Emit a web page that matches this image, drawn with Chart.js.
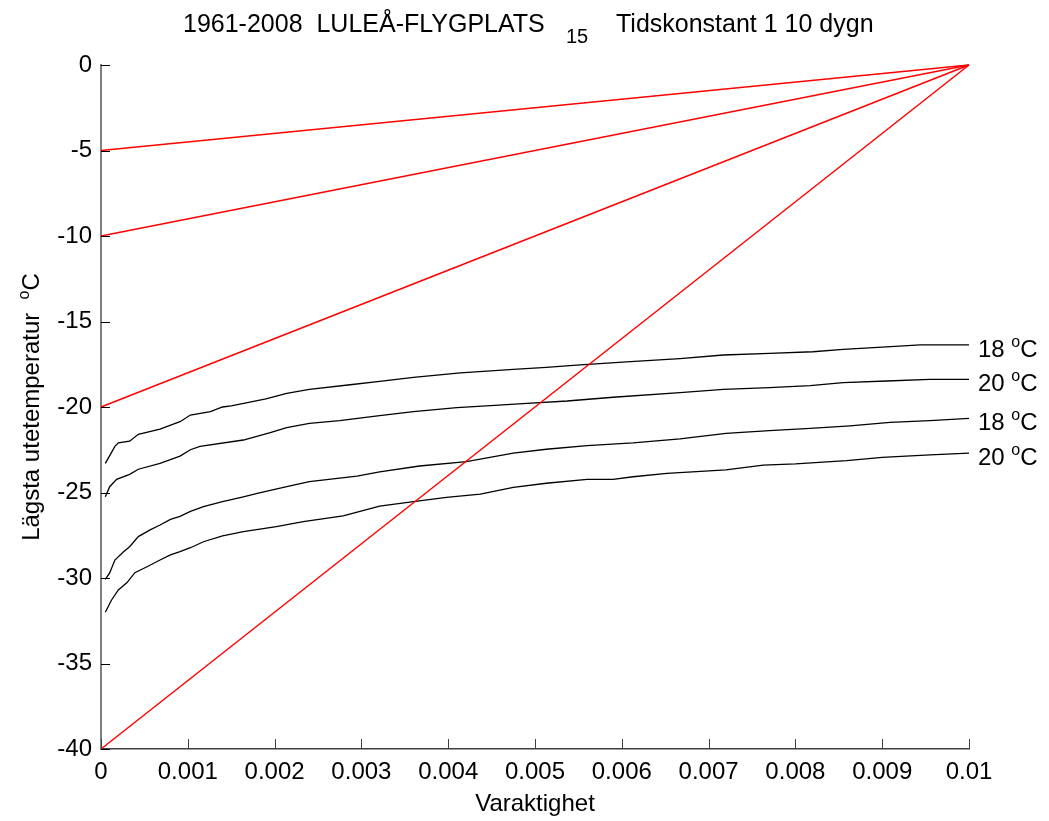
<!DOCTYPE html>
<html>
<head>
<meta charset="utf-8">
<script src="https://cdn.jsdelivr.net/npm/chart.js@4/dist/chart.umd.min.js"></script>
<style>
html,body{margin:0;padding:0;background:#fff;}
#wrap{width:1049px;height:821px;position:relative;}
</style>
</head>
<body>
<div id="wrap"><canvas id="c" width="1049" height="821"></canvas></div>
<script>
// ---- data ----
const xTickValues = [0,0.001,0.002,0.003,0.004,0.005,0.006,0.007,0.008,0.009,0.01];
const xTickLabels = ['0','0.001','0.002','0.003','0.004','0.005','0.006','0.007','0.008','0.009','0.01'];
const yTickValues = [0,-5,-10,-15,-20,-25,-30,-35,-40];
const yTickLabels = ['0','-5','-10','-15','-20','-25','-30','-35','-40'];

const redStartY = [-5,-10,-20,-40];
const redEnd = {x:0.01, y:0};

const curveLabels = ['18 ','20 ','18 ','20 '];

const c1x = [0.00005,0.00016,0.0002,0.00033,0.00043,0.00068,0.00091,0.00103,0.00126,0.0014,0.0015,0.0019,0.00214,0.0024,0.00287,0.00321,0.0036,0.00414,0.00475,0.00513,0.00552,0.0061,0.00667,0.00717,0.0077,0.0082,0.00855,0.009,0.00944,0.01];
const c1y = [-23.3,-22.3,-22.1,-22.0,-21.6,-21.3,-20.86,-20.47,-20.27,-20.0,-19.94,-19.53,-19.2,-18.97,-18.7,-18.5,-18.27,-18.0,-17.8,-17.68,-17.54,-17.35,-17.17,-16.96,-16.86,-16.77,-16.63,-16.5,-16.37,-16.37];

const c2x = [0.00005,0.0001,0.00018,0.00033,0.00043,0.00068,0.00091,0.00103,0.00114,0.00164,0.00195,0.00214,0.0024,0.00275,0.00321,0.0036,0.0041,0.00444,0.00486,0.00537,0.0059,0.00667,0.00717,0.0077,0.00817,0.00855,0.00905,0.00955,0.01];
const c2y = [-25.25,-24.66,-24.23,-23.94,-23.64,-23.3,-22.87,-22.5,-22.3,-21.93,-21.5,-21.2,-20.96,-20.8,-20.5,-20.27,-20.04,-19.94,-19.8,-19.65,-19.43,-19.16,-18.97,-18.87,-18.75,-18.58,-18.48,-18.38,-18.38];

const c3x = [0.00005,0.0001,0.00016,0.00026,0.00033,0.00043,0.00056,0.00068,0.0008,0.00091,0.00103,0.00118,0.0014,0.00164,0.0018,0.00214,0.0024,0.00295,0.00321,0.00367,0.00421,0.00475,0.00513,0.0056,0.00613,0.00667,0.0072,0.0077,0.00817,0.00863,0.00909,0.00955,0.01];
const c3y = [-30.08,-29.7,-28.95,-28.46,-28.17,-27.58,-27.2,-26.9,-26.57,-26.4,-26.1,-25.83,-25.53,-25.25,-25.05,-24.66,-24.37,-24.04,-23.8,-23.45,-23.2,-22.7,-22.47,-22.26,-22.1,-21.87,-21.54,-21.38,-21.25,-21.1,-20.9,-20.8,-20.66];

const c4x = [0.00005,0.00012,0.0002,0.0003,0.00039,0.00053,0.00068,0.0008,0.00091,0.00103,0.00118,0.0014,0.00164,0.00202,0.00233,0.00279,0.00321,0.0036,0.00398,0.00437,0.00475,0.00513,0.0056,0.0059,0.00613,0.00652,0.0072,0.00763,0.008,0.00859,0.009,0.00955,0.01];
const c4y = [-32.0,-31.3,-30.7,-30.27,-29.69,-29.34,-28.95,-28.65,-28.46,-28.23,-27.88,-27.54,-27.29,-27.0,-26.7,-26.37,-25.8,-25.53,-25.28,-25.09,-24.7,-24.46,-24.23,-24.23,-24.08,-23.88,-23.68,-23.4,-23.33,-23.14,-22.94,-22.8,-22.7];

const titleMain = '1961-2008  LULEÅ-FLYGPLATS';
const titleSub = '15';
const titleRest = 'Tidskonstant 1 10 dygn';
const xTitle = 'Varaktighet';
const yTitleParts = [{t:'Lägsta utetemperatur  ', k:'n'},{t:'o', k:'sup'},{t:'C', k:'n'}];

// ---- build ----
const FONT = '"Liberation Sans", Arial, Helvetica, sans-serif';
const zip = (xs, ys) => xs.map((x,i)=>({x:x, y:ys[i]}));

const datasets = [];
redStartY.forEach(y0 => {
  datasets.push({data:[{x:0,y:y0}, redEnd], borderColor:'#ff0000', borderWidth:1.5, pointRadius:0, tension:0, kind:'red'});
});
[[c1x,c1y],[c2x,c2y],[c3x,c3y],[c4x,c4y]].forEach((c,i) => {
  datasets.push({data:zip(c[0],c[1]), borderColor:'#000000', borderWidth:1.3, pointRadius:0, tension:0, kind:'curve', lbl:curveLabels[i]});
});

function drawParts(ctx, parts, x, y, size, align) {
  const big = size + 'px ' + FONT;
  const small = Math.round(size*0.68) + 'px ' + FONT;
  let total = 0;
  parts.forEach(p => { ctx.font = p.k==='n'?big:small; p.w = ctx.measureText(p.t).width; total += p.w; });
  let cx = align==='center' ? x - total/2 : x;
  parts.forEach(p => {
    ctx.font = p.k==='n'?big:small;
    let dy = 0;
    if (p.k==='sup') dy = -size*0.42;
    if (p.k==='sub') dy = size*0.38;
    ctx.fillText(p.t, cx, y+dy);
    cx += p.w;
  });
}

const textPlugin = {
  id:'textPlugin',
  afterDraw(chart) {
    const ctx = chart.ctx;
    const xs = chart.scales.x, ys = chart.scales.y;
    const a = chart.chartArea;
    ctx.save();
    // inward ticks
    ctx.lineWidth = 1;
    ctx.strokeStyle = '#000';
    yTickValues.forEach(v => {
      const py = Math.round(ys.getPixelForValue(v)) + 0.5;
      ctx.beginPath(); ctx.moveTo(a.left, py); ctx.lineTo(a.left+9, py); ctx.stroke();
    });
    ctx.strokeStyle = '#404040';
    xTickValues.forEach(v => {
      const px = Math.round(xs.getPixelForValue(v)) + 0.5;
      ctx.beginPath(); ctx.moveTo(px, a.bottom); ctx.lineTo(px, a.bottom-10); ctx.stroke();
    });
    ctx.fillStyle = '#000';
    ctx.textBaseline = 'alphabetic';
    ctx.textAlign = 'left';
    // title
    ctx.font = '25px ' + FONT;
    ctx.fillText(titleMain, 183, 32);
    ctx.font = '20px ' + FONT;
    ctx.fillText(titleSub, 566, 43);
    ctx.font = '25px ' + FONT;
    ctx.fillText(titleRest, 616, 32);
    // x title
    ctx.font = '24px ' + FONT;
    ctx.textAlign = 'center';
    ctx.fillText(xTitle, (a.left+a.right)/2, 811);
    ctx.textAlign = 'left';
    // y title
    ctx.save();
    ctx.translate(39, (a.top+a.bottom)/2);
    ctx.rotate(-Math.PI/2);
    drawParts(ctx, yTitleParts.map(p=>({...p})), 0, 0, 24, 'center');
    ctx.restore();
    // curve labels
    chart.data.datasets.forEach((ds, i) => {
      if (ds.kind !== 'curve') return;
      const last = ds.data[ds.data.length-1];
      const px = xs.getPixelForValue(last.x);
      const py = ys.getPixelForValue(last.y);
      drawParts(ctx, [{t:ds.lbl,k:'n'},{t:'o',k:'sup'},{t:'C',k:'n'}], px+9, py+12, 24, 'left');
    });
    ctx.restore();
  }
};

new Chart(document.getElementById('c'), {
  type:'line',
  data:{datasets:datasets},
  options:{
    responsive:false,
    animation:false,
    events:[],
    clip:false,
    layout:{padding:{left:0,right:80,top:65,bottom:0}},
    plugins:{legend:{display:false}, title:{display:false}, tooltip:{enabled:false}},
    scales:{
      x:{
        type:'linear', min:0, max:0.01,
        afterBuildTicks: s => { s.ticks = xTickValues.map(v=>({value:v})); },
        afterFit: s => { s.height = 72; },
        grid:{display:false, drawTicks:false},
        border:{display:true, color:'#404040', width:1.5},
        ticks:{
          autoSkip:false, maxRotation:0, padding:9, color:'#000',
          font:{family:FONT, size:24},
          callback:(v,i)=> xTickLabels[i]
        }
      },
      y:{
        type:'linear', min:-40, max:0,
        afterBuildTicks: s => { s.ticks = yTickValues.map(v=>({value:v})); },
        afterFit: s => { s.width = 101; },
        grid:{display:false, drawTicks:false},
        border:{display:true, color:'#808080', width:2},
        ticks:{
          autoSkip:false, padding:9, color:'#000',
          font:{family:FONT, size:24},
          callback:(v,i)=> yTickLabels[i]
        }
      }
    }
  },
  plugins:[textPlugin]
});
</script>
</body>
</html>
